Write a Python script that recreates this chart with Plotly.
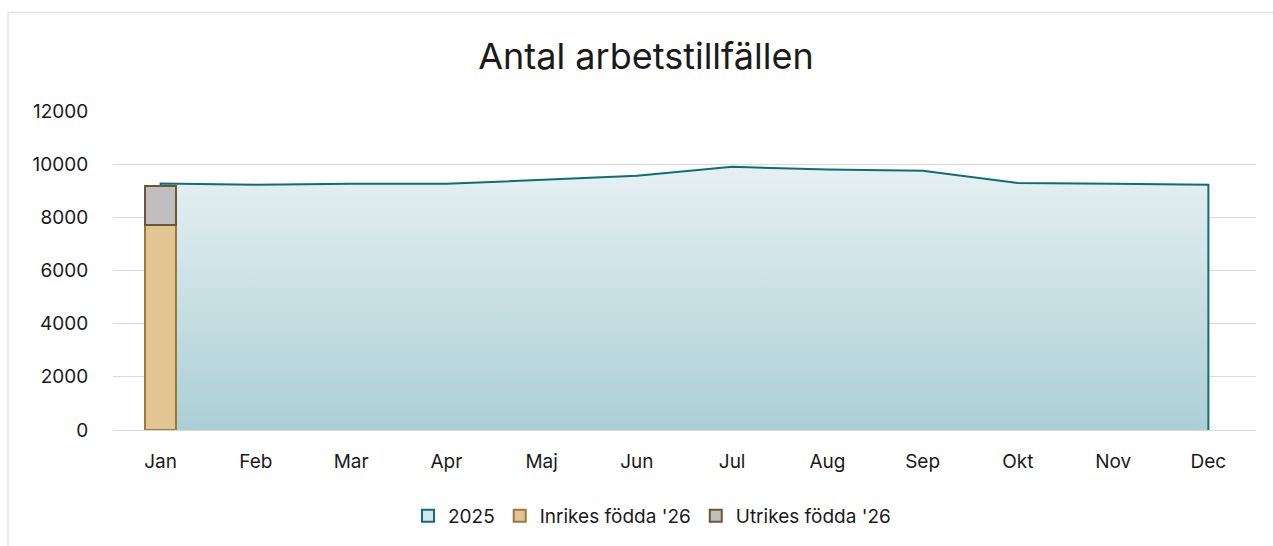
import plotly.graph_objects as go

months = ["Jan", "Feb", "Mar", "Apr", "Maj", "Jun", "Jul", "Aug", "Sep", "Okt", "Nov", "Dec"]
values_2025 = [9270, 9230, 9260, 9260, 9400, 9560, 9900, 9800, 9750, 9290, 9260, 9230]
bar_months = ["Jan"]
inrikes_26 = [7700]
utrikes_26 = [1480]

FONT = "Inter"

fig = go.Figure()

# Area for 2025 (outline includes the vertical side edges down to the baseline)
area_x = [months[0]] + months + [months[-1]]
area_y = [0] + values_2025 + [0]
fig.add_trace(go.Scatter(
    x=area_x, y=area_y, name="2025", mode="lines",
    fill="toself",
    fillgradient=dict(type="vertical",
                      colorscale=[[0, "#abcfd5"], [1, "#e6f0f2"]]),
    line=dict(color="#0d6e75", width=2),
    hoverinfo="skip", showlegend=False,
))

# legend proxy for the 2025 area (square swatch like the original)
fig.add_trace(go.Bar(
    x=bar_months, y=[None], name="2025",
    marker=dict(color="#d3e6ea", line=dict(color="#0d6e75", width=2)),
    xaxis="x2", yaxis="y2", showlegend=True,
))
fig.add_trace(go.Bar(
    x=bar_months, y=inrikes_26, name="Inrikes födda '26",
    marker=dict(color="#e2c592", line=dict(color="#9c783a", width=2)),
    width=0.33, xaxis="x2", yaxis="y2",
))
fig.add_trace(go.Bar(
    x=bar_months, y=utrikes_26, name="Utrikes födda '26",
    marker=dict(color="#bfbfbf", line=dict(color="#6f5530", width=2)),
    width=0.33, xaxis="x2", yaxis="y2",
))

fig.update_layout(
    width=1273, height=546,
    margin=dict(l=113, r=17, t=111, b=115),
    paper_bgcolor="white", plot_bgcolor="white",
    barmode="stack",
    font=dict(family=FONT, size=19, color="#1a1a1a"),
    title=dict(text="Antal arbetstillfällen", x=646 / 1273, xanchor="center",
               y=1 - 56 / 546, yanchor="middle",
               font=dict(family=FONT, size=36, color="#1a1a1a")),
    xaxis=dict(type="category", categoryorder="array", categoryarray=months,
               range=[-0.5, 11.5], showgrid=False, showline=True,
               linecolor="#d9d9d9", linewidth=1,
               ticks="outside", ticklen=14, tickcolor="rgba(0,0,0,0)",
               zeroline=False),
    yaxis=dict(range=[0, 12000], dtick=2000, tickformat="d",
               showgrid=True, gridcolor="#d9d9d9",
               gridwidth=1, zeroline=False, showline=False,
               ticks="outside", ticklen=20, tickcolor="rgba(0,0,0,0)"),
    xaxis2=dict(type="category", categoryorder="array", categoryarray=months,
                range=[-0.5, 11.5], overlaying="x", visible=False),
    yaxis2=dict(range=[0, 12000], overlaying="y", visible=False),
    legend=dict(orientation="h", x=(652 - 113) / 1143, xanchor="center",
                y=(431 - 516) / 320, yanchor="middle",
                font=dict(family=FONT, size=19), traceorder="normal",
                itemclick=False, itemwidth=30),
    showlegend=True,
    shapes=[dict(type="rect", xref="paper", yref="paper",
                 x0=(8 - 113) / 1143, x1=1.2, y0=-0.6, y1=(431 - 12) / 320,
                 line=dict(color="#d9d9d9", width=1), fillcolor="rgba(0,0,0,0)",
                 layer="below")],
)

fig.write_html("out.html")
